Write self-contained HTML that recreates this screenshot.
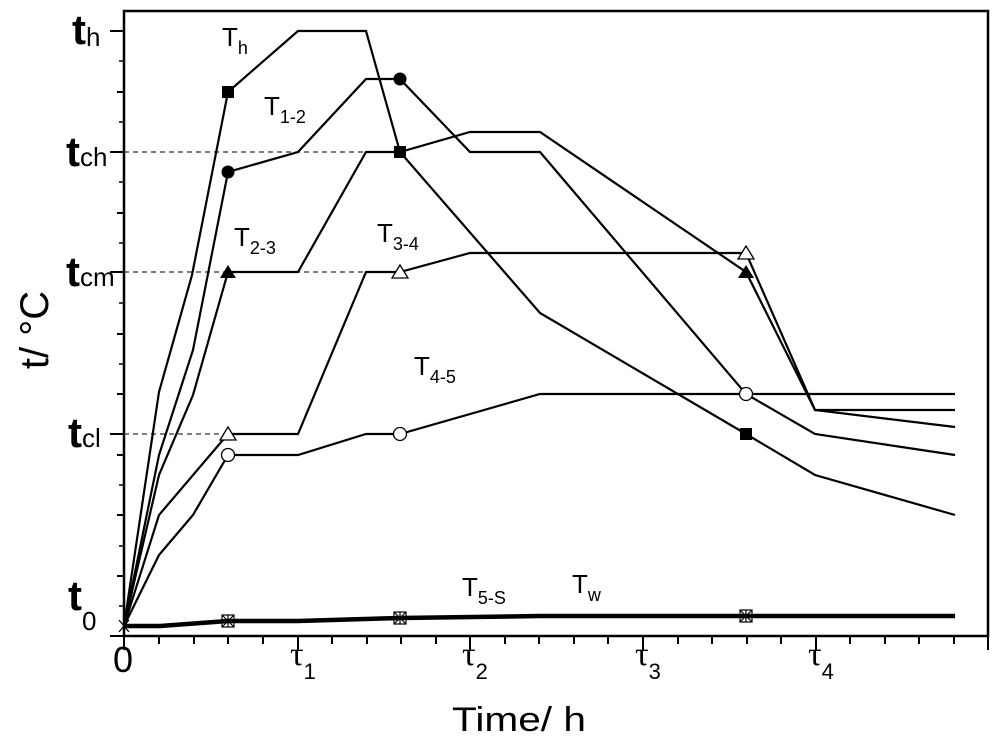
<!DOCTYPE html>
<html><head><meta charset="utf-8"><style>
html,body{margin:0;padding:0;background:#fff;}
svg{display:block;font-family:"Liberation Sans",sans-serif;}
</style></head><body>
<svg width="1000" height="742" viewBox="0 0 1000 742" xmlns="http://www.w3.org/2000/svg">
<rect width="1000" height="742" fill="#fff"/>
<rect x="124" y="11" width="864" height="625" fill="none" stroke="#000" stroke-width="2.5"/>
<g stroke="#333" stroke-width="1.2" stroke-dasharray="5,4">
<line x1="124" y1="152" x2="400" y2="152"/>
<line x1="124" y1="272" x2="400" y2="272"/>
<line x1="124" y1="434" x2="228" y2="434"/>
</g>
<g stroke="#000" stroke-width="2">
<line x1="110" y1="31" x2="124" y2="31"/>
<line x1="117" y1="92" x2="124" y2="92"/>
<line x1="110" y1="152" x2="124" y2="152"/>
<line x1="117" y1="213" x2="124" y2="213"/>
<line x1="110" y1="272" x2="124" y2="272"/>
<line x1="117" y1="334" x2="124" y2="334"/>
<line x1="117" y1="394" x2="124" y2="394"/>
<line x1="110" y1="434" x2="124" y2="434"/>
<line x1="117" y1="455" x2="124" y2="455"/>
<line x1="117" y1="515" x2="124" y2="515"/>
<line x1="117" y1="576" x2="124" y2="576"/>
<line x1="110" y1="636" x2="124" y2="636"/>
</g>
<g stroke="#000" stroke-width="1.5">
<line x1="119" y1="61" x2="124" y2="61"/><line x1="119" y1="122" x2="124" y2="122"/>
<line x1="119" y1="182" x2="124" y2="182"/><line x1="119" y1="243" x2="124" y2="243"/>
<line x1="119" y1="303" x2="124" y2="303"/><line x1="119" y1="364" x2="124" y2="364"/>
<line x1="119" y1="485" x2="124" y2="485"/><line x1="119" y1="546" x2="124" y2="546"/>
<line x1="119" y1="606" x2="124" y2="606"/>
</g>
<g stroke="#000" stroke-width="2">
<line x1="124" y1="636" x2="124" y2="650"/>
<line x1="298" y1="636" x2="298" y2="650"/>
<line x1="470" y1="636" x2="470" y2="650"/>
<line x1="643" y1="636" x2="643" y2="650"/>
<line x1="816" y1="636" x2="816" y2="650"/>
<line x1="988" y1="636" x2="988" y2="650"/>
<line x1="159" y1="636" x2="159" y2="644"/><line x1="194" y1="636" x2="194" y2="644"/>
<line x1="228" y1="636" x2="228" y2="644"/><line x1="263" y1="636" x2="263" y2="644"/>
<line x1="332" y1="636" x2="332" y2="644"/><line x1="367" y1="636" x2="367" y2="644"/>
<line x1="401" y1="636" x2="401" y2="644"/><line x1="436" y1="636" x2="436" y2="644"/>
<line x1="505" y1="636" x2="505" y2="644"/><line x1="539" y1="636" x2="539" y2="644"/>
<line x1="574" y1="636" x2="574" y2="644"/><line x1="608" y1="636" x2="608" y2="644"/>
<line x1="678" y1="636" x2="678" y2="644"/><line x1="712" y1="636" x2="712" y2="644"/>
<line x1="747" y1="636" x2="747" y2="644"/><line x1="781" y1="636" x2="781" y2="644"/>
<line x1="850" y1="636" x2="850" y2="644"/><line x1="885" y1="636" x2="885" y2="644"/>
<line x1="919" y1="636" x2="919" y2="644"/><line x1="954" y1="636" x2="954" y2="644"/>
</g>
<g fill="none" stroke="#000" stroke-width="2.2" stroke-linejoin="miter">
<polyline points="124,626 159,392 192,275 228,92 298,31 366,31 400,152 540,313 746,434 815,475 955,515"/>
<polyline points="124,626 159,455 193,350 228,172 298,152 366,79 400,79 470,152 540,152 746,394 815,434 955,455"/>
<polyline points="124,626 159,475 193,395 228,272 298,272 366,152 400,152 470,132 540,132 746,272 815,410 955,410"/>
<polyline points="124,626 159,515 228,434 298,434 366,272 400,272 470,253 746,253 815,410 955,427"/>
<polyline points="124,626 159,555 193,515 228,455 298,455 366,434 400,434 540,394 955,394"/>
</g>
<g fill="none" stroke="#000" stroke-width="4.5">
<polyline points="124,626 160,626 228,621 298,621 400,618 540,616 955,616"/>
</g>
<rect x="222" y="86" width="12" height="12" fill="#000"/>
<rect x="394" y="146" width="12" height="12" fill="#000"/>
<rect x="740" y="428" width="12" height="12" fill="#000"/>
<circle cx="228" cy="172" r="6.5" fill="#000"/>
<circle cx="400" cy="79" r="6.5" fill="#000"/>
<polygon points="228,265 220,278 236,278" fill="#000"/>
<polygon points="746,265 738,278 754,278" fill="#000"/>
<polygon points="400,265 392,278 408,278" fill="#fff" stroke="#000" stroke-width="1.3"/>
<polygon points="228,427 220,440 236,440" fill="#fff" stroke="#000" stroke-width="1.3"/>
<polygon points="746,246 738,259 754,259" fill="#fff" stroke="#000" stroke-width="1.3"/>
<circle cx="228" cy="455" r="6.5" fill="#fff" stroke="#000" stroke-width="1.3"/>
<circle cx="400" cy="434" r="6.5" fill="#fff" stroke="#000" stroke-width="1.3"/>
<circle cx="746" cy="394" r="6.5" fill="#fff" stroke="#000" stroke-width="1.3"/>
<g fill="none" stroke="#000" stroke-width="1.2">
<rect x="222" y="615" width="12" height="12"/><path d="M222,615 L234,627 M234,615 L222,627 M228,615 V627"/>
<rect x="394" y="612" width="12" height="12"/><path d="M394,612 L406,624 M406,612 L394,624 M400,612 V624"/>
<rect x="740" y="610" width="12" height="12"/><path d="M740,610 L752,622 M752,610 L740,622 M746,610 V622"/>
<path d="M119,620 L129,632 M129,620 L119,632"/>
</g>
<g font-size="26" fill="#000">
<text x="222" y="46">T<tspan font-size="18" dy="8">h</tspan></text>
<text x="264" y="115">T<tspan font-size="18" dy="8">1-2</tspan></text>
<text x="234" y="246">T<tspan font-size="18" dy="8">2-3</tspan></text>
<text x="377" y="242">T<tspan font-size="18" dy="8">3-4</tspan></text>
<text x="414" y="375">T<tspan font-size="18" dy="8">4-5</tspan></text>
<text x="462" y="596">T<tspan font-size="18" dy="8">5-S</tspan></text>
<text x="572" y="593">T<tspan font-size="18" dy="8">w</tspan></text>
</g>
<g font-size="42" fill="#000" font-weight="bold">
<text x="72" y="44">t<tspan font-size="26" font-weight="normal" dy="2">h</tspan></text>
<text x="66" y="166">t<tspan font-size="26" font-weight="normal">ch</tspan></text>
<text x="66" y="286">t<tspan font-size="26" font-weight="normal">cm</tspan></text>
<text x="68" y="447">t<tspan font-size="26" font-weight="normal">cl</tspan></text>
<text x="68" y="610">t<tspan font-size="26" font-weight="normal" dy="20">0</tspan></text>
</g>
<g font-size="34" fill="#000" font-family="'Liberation Serif',serif">
<text x="113" y="672" font-family="'Liberation Sans',sans-serif" font-size="36">0</text>
<text x="290" y="665">τ<tspan font-size="22" font-family="'Liberation Sans',sans-serif" dy="14">1</tspan></text>
<text x="462" y="665">τ<tspan font-size="22" font-family="'Liberation Sans',sans-serif" dy="14">2</tspan></text>
<text x="635" y="665">τ<tspan font-size="22" font-family="'Liberation Sans',sans-serif" dy="14">3</tspan></text>
<text x="808" y="665">τ<tspan font-size="22" font-family="'Liberation Sans',sans-serif" dy="14">4</tspan></text>
</g>
<text x="519" y="731" font-size="34" text-anchor="middle" textLength="134" lengthAdjust="spacingAndGlyphs">Time/ h</text>
<text transform="translate(48,330) rotate(-90)" font-size="40" text-anchor="middle">t/ °C</text>
</svg>
</body></html>
